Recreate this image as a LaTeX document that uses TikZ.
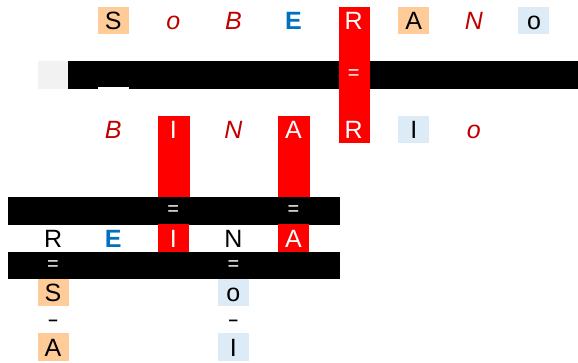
\documentclass[tikz,border=0pt]{standalone}
\usepackage{fontspec}
\setmainfont{Liberation Sans}
\definecolor{orng}{HTML}{FFCC99}
\definecolor{lblue}{HTML}{DDEBF7}
\definecolor{dred}{HTML}{C00000}
\definecolor{eblue}{HTML}{0070C0}
\definecolor{lgrey}{HTML}{F2F2F2}
\tikzset{
  cell/.style={minimum width=31pt, minimum height=27.6pt, inner sep=0pt, text height=18pt, text depth=0pt, font=\fontsize{25}{25}\selectfont, text=black},
  itc/.style={cell, text=dred, font=\fontsize{25}{25}\selectfont\itshape},
  bldc/.style={cell, text=eblue, font=\fontsize{25}{25}\selectfont\bfseries},
  whtc/.style={cell, text=white},
  orc/.style={cell, fill=orng},
  blc/.style={cell, fill=lblue},
  redc/.style={whtc, fill=red},
  eqs/.style={inner sep=0pt, text=white, font=\fontsize{20}{20}\selectfont},
  mns/.style={inner sep=0pt, text=black, font=\fontsize{17}{17}\selectfont\bfseries},
  bar/.style={fill=black},
  redbar/.style={fill=red}
}
\begin{document}
\begin{tikzpicture}[x=30.06pt, y=-27.2pt]
\useasboundingbox (-0.2645,-0.2574) rectangle (18.964,13.088);
% top bar region
\fill[lgrey] (1,2) rectangle (2,3);
\fill[bar] (2,2) rectangle (18.964,3);
\fill[white] (3,2.955) rectangle (4.03,3);
% red columns
\fill[redbar] (11,0) rectangle (12.04,5);
\fill[redbar] (5,4) rectangle (6.04,7);
\fill[redbar] (9,4) rectangle (10.04,7);
% lower bars
\fill[bar] (0,7) rectangle (11.05,8);
\fill[bar] (0,9) rectangle (11.05,10);
% row 0
\node[orc]  (s0) at (3.5,0.5) {S};
\node[itc]  (o0) at (5.5,0.5) {o};
\node[itc]  (b0) at (7.5,0.5) {B};
\node[bldc] (e0) at (9.5,0.5) {E};
\node[whtc] (r0) at (11.5,0.5) {R};
\node[orc]  (a0) at (13.5,0.5) {A};
\node[itc]  (n0) at (15.5,0.5) {N};
\node[blc]  (p0) at (17.5,0.5) {o};
% top bar equal
\node[eqs] (eqtop) at (11.5,2.5) {=};
% row 4
\node[itc]  (b4) at (3.5,4.5) {B};
\node[whtc] (i4) at (5.5,4.5) {I};
\node[itc]  (n4) at (7.5,4.5) {N};
\node[whtc] (a4) at (9.5,4.5) {A};
\node[whtc] (r4) at (11.5,4.5) {R};
\node[blc]  (j4) at (13.5,4.5) {I};
\node[itc]  (o4) at (15.5,4.5) {o};
% bar 1 equals
\node[eqs] (eq1a) at (5.5,7.5) {=};
\node[eqs] (eq1b) at (9.5,7.5) {=};
% row 8
\node[cell] (r8) at (1.5,8.5) {R};
\node[bldc] (e8) at (3.5,8.5) {E};
\node[redc] (i8) at (5.5,8.5) {I};
\node[cell] (n8) at (7.5,8.5) {N};
\node[redc] (a8) at (9.5,8.5) {A};
% bar 2 equals
\node[eqs] (eq2a) at (1.5,9.5) {=};
\node[eqs] (eq2b) at (7.5,9.5) {=};
% rows 10-12
\node[orc] (s10) at (1.5,10.5) {S};
\node[blc] (o10) at (7.5,10.5) {o};
\node[mns] (m11a) at (1.5,11.6) {–};
\node[mns] (m11b) at (7.5,11.6) {–};
\node[orc] (a12) at (1.5,12.5) {A};
\node[blc] (i12) at (7.5,12.5) {I};
\end{tikzpicture}
\end{document}
